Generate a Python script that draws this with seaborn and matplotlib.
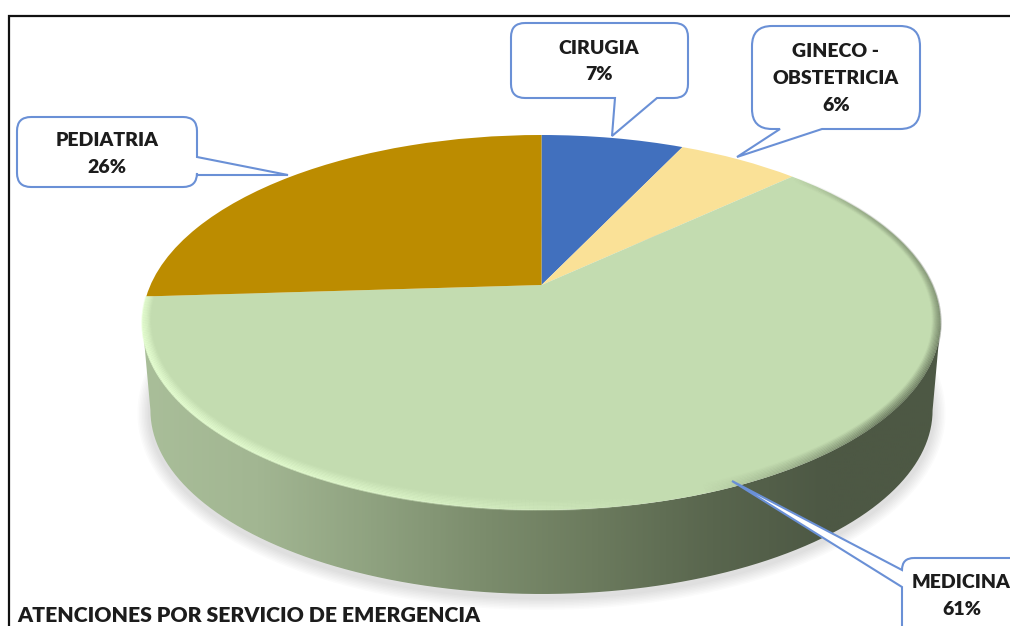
import numpy as np
import matplotlib
matplotlib.use('Agg')
import matplotlib.pyplot as plt
import seaborn as sns
from matplotlib.collections import LineCollection
from matplotlib.colors import LinearSegmentedColormap, to_rgb
from matplotlib.patches import PathPatch
from matplotlib.path import Path
from matplotlib.transforms import Transform

# datos
servicios = ['CIRUGIA', 'GINECO -\nOBSTETRICIA', 'MEDICINA', 'PEDIATRIA']
porcentajes = [7, 6, 61, 26]
colores = ['#4170BE', '#FAE197', '#C3DCB0', '#BC8C00']
titulo = 'ATENCIONES POR SERVICIO DE EMERGENCIA'

sns.set_theme(style='white')
plt.rcParams['font.family'] = ['Lato', 'DejaVu Sans']
TEXTO = '#1c1c1c'
AZUL = '#6A90D6'

# geometria del disco en pixeles de la imagen
CX, CY = 541.5, 285
K, A, B = 0.2, 391, 180


def proyectar(x, y, escala=1.0, dy=0.0):
    w = 1 + K * y
    return CX + escala * A * x / w, CY + dy - escala * B * y / w


class Perspectiva(Transform):
    input_dims = 2
    output_dims = 2
    is_separable = False

    def transform_non_affine(self, values):
        px, py = proyectar(values[:, 0], values[:, 1])
        return np.column_stack([px, py])


def globo(x0, y0, x1, y1, r, lado, cola):
    # rectangulo redondeado con la cola del globo, en sentido horario
    a, punta, b = cola
    L, Q = Path.LINETO, Path.CURVE3
    v = [(x0 + r, y0), (x1 - r, y0), (x1, y0), (x1, y0 + r)]
    c = [Path.MOVETO, L, Q, Q]
    if lado == 'der':
        v += [a, punta, b]
        c += [L, L, L]
    v += [(x1, y1 - r), (x1, y1), (x1 - r, y1)]
    c += [L, Q, Q]
    if lado == 'abajo':
        v += [b, punta, a]
        c += [L, L, L]
    v += [(x0 + r, y1), (x0, y1), (x0, y1 - r)]
    c += [L, Q, Q]
    if lado == 'izq':
        v += [b, punta, a]
        c += [L, L, L]
    v += [(x0, y0 + r), (x0, y0), (x0 + r, y0)]
    c += [L, Q, Q]
    return Path(v, c)


fig, ax = plt.subplots(figsize=(10.1, 6.26), dpi=100)
fig.subplots_adjust(0, 0, 1, 1)

wedges, _ = ax.pie(porcentajes, colors=colores, startangle=90, counterclock=False,
                   wedgeprops=dict(linewidth=0))
persp = Perspectiva() + ax.transData
for w in wedges:
    w.set_transform(persp)
    w.set_zorder(5)

# sombra y pared lateral
DY, ESC = 88.5, 0.98
t = np.radians(np.linspace(0, 360, 361))
bx, by = proyectar(np.sin(t), np.cos(t), ESC, DY)
base = Path(np.column_stack([bx, by + 3]))
for lw in range(26, 2, -3):
    ax.add_patch(PathPatch(base, fill=False, ec='black', lw=lw * 0.72, alpha=0.016, zorder=1))

t = np.radians(np.linspace(101.5, 258.5, 211))
px, py = proyectar(np.sin(t), np.cos(t))
qx, qy = proyectar(np.sin(t), np.cos(t), ESC, DY)
pared = Path(np.column_stack([np.r_[qx, px[::-1], qx[0]], np.r_[qy, py[::-1], qy[0]]]))
cmap = LinearSegmentedColormap.from_list('pared', ['#A9BE99', '#A2B692', '#8FA280', '#7B8C6C',
                                                    '#6B7A5D', '#59664E', '#4D5844', '#4D5844'])
img = ax.imshow(np.linspace(0, 1, 400)[None, :], cmap=cmap, extent=(143, 941, 600, 250),
                aspect='auto', zorder=2)
clip = PathPatch(pared, transform=ax.transData, fc='none', ec='none')
ax.add_patch(clip)
img.set_clip_path(clip)

# bisel del borde superior
t0 = np.linspace(47, 266.4, 440)
claro = np.array(to_rgb('#E6FFD2'))
oscuro = np.array(to_rgb('#4D5844'))
fuerza_claro = np.interp(t0, [165, 205, 250, 266.4], [0, 0.75, 1, 0.7])
fuerza_oscuro = np.interp(t0, [47, 62, 90, 115, 130, 160], [0, 0.25, 0.5, 0.9, 1, 0])
ANCHO = 8
for d in np.arange(0, ANCHO, 1.0):
    nivel = 1 - d / ANCHO
    m = np.radians(t0)
    x, y = proyectar((1 - d / 391) * np.sin(m), (1 - d / 200) * np.cos(m))
    puntos = np.column_stack([x, y]).reshape(-1, 1, 2)
    tramos = np.concatenate([puntos[:-1], puntos[1:]], axis=1)
    filas = []
    for fc, fo in zip(fuerza_claro[:-1], fuerza_oscuro[:-1]):
        if fc > 0:
            filas.append(np.r_[claro, min(1, 0.85 * nivel * fc)])
        else:
            filas.append(np.r_[oscuro, 0.55 * nivel * fo])
    ax.add_collection(LineCollection(tramos, colors=filas, linewidths=1.5, zorder=6))

# globos con etiqueta
globos = [
    ((511, 23, 688, 98, 14, 'abajo', ((615, 98), (612, 136), (657, 98))), (599, 61.5)),
    ((752, 26, 920, 129, 20, 'abajo', ((780, 129), (737, 157), (822, 129))), (836, 78.5)),
    ((902, 558, 1040, 660, 12, 'izq', ((902, 570), (732, 481), (902, 587))), (961.5, 596)),
    ((17, 117, 197, 187, 14, 'der', ((197, 157), (288, 175), (197, 175))), (107, 154)),
]
for serv, val, (geo, pos) in zip(servicios, porcentajes, globos):
    ax.add_patch(PathPatch(globo(*geo), fc='white', ec=AZUL, lw=1.5, zorder=8))
    ax.text(pos[0], pos[1], f'{serv}\n{val}%', ha='center', va='center', fontsize=14,
            fontweight=800, color=TEXTO, linespacing=1.68, zorder=9)

# marco y titulo
ax.plot([9, 9, 1030], [640, 16, 16], color='#111111', lw=1.6, zorder=10, solid_joinstyle='miter')
ax.text(17, 615, titulo, ha='left', va='center', fontsize=15.35, fontweight=800,
        color=TEXTO, zorder=10)

ax.set_xlim(0, 1010)
ax.set_ylim(626, 0)
ax.set_aspect('auto')
ax.axis('off')
fig.savefig('out.png', dpi=100, facecolor='white')
